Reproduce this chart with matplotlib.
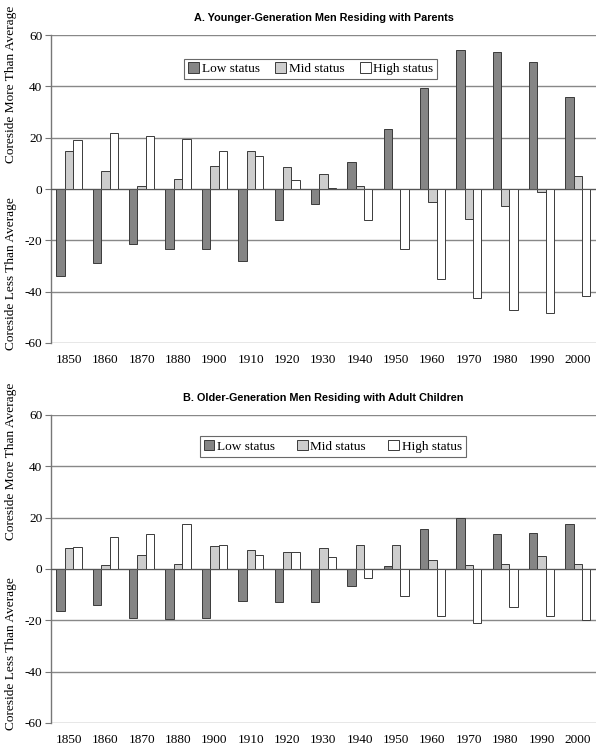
import numpy as np
import matplotlib
matplotlib.use("Agg")
import matplotlib.pyplot as plt

plt.rcParams['axes.unicode_minus'] = False

# Census years (categories)
years = ['1850', '1860', '1870', '1880', '1900', '1910', '1920', '1930',
         '1940', '1950', '1960', '1970', '1980', '1990', '2000']

# Panel A: younger-generation men residing with parents
a_low = [-34, -29, -21.5, -23.5, -23.5, -28, -12, -6, 10.5, 23.5, 39.5, 54, 53.5, 49.5, 36]
a_mid = [15, 7, 1, 4, 9, 15, 8.5, 6, 1, 0, -5, -11.5, -6.5, -1, 5]
a_high = [19, 22, 20.5, 19.5, 15, 13, 3.5, 0.3, -12, -23.5, -35, -42.5, -47, -48.5, -41.5]

# Panel B: older-generation men residing with adult children
b_low = [-16.5, -14, -19, -19.5, -19, -12.5, -13, -13, -6.5, 1, 15.5, 20, 13.5, 14, 17.5]
b_mid = [8, 1.5, 5.5, 2, 9, 7.5, 6.5, 8, 9.5, 9.5, 3.5, 1.5, 2, 5, 2]
b_high = [8.5, 12.5, 13.5, 17.5, 9.5, 5.5, 6.5, 4.5, -3.5, -10.5, -18.5, -21, -15, -18.5, -20]

series_labels = ['Low status', 'Mid status', 'High status']
colors = ['#858585', '#cdcdcd', '#ffffff']

serif = 'Liberation Serif'
sans = 'Liberation Sans'


def draw_panel(ax, low, mid, high, title, leg_x, leg_y, legend_spacing):
    x = np.arange(len(years))
    w = 0.23
    for i, (vals, lab, c) in enumerate(zip([low, mid, high], series_labels, colors)):
        ax.bar(x + (i - 1) * w, vals, w, color=c, edgecolor='#3a3a3a',
               linewidth=0.7, label=lab, zorder=3)

    ax.set_xlim(-0.5, len(years) - 0.5)
    ax.set_ylim(-60, 60)
    ax.set_yticks(range(-60, 61, 20))
    ax.set_xticks(x)
    ax.set_xticklabels(years, fontfamily=serif, fontsize=9.5)
    for t in ax.get_yticklabels():
        t.set_fontfamily(serif)
        t.set_fontsize(9.5)
    ax.tick_params(axis='x', length=0, pad=8)
    ax.tick_params(axis='y', length=4, color='#777777', pad=2)

    ax.grid(axis='y', color='#888888', linewidth=1.0, zorder=0)
    ax.axhline(0, color='#555555', linewidth=0.8, zorder=4)
    for s in ['top', 'right', 'bottom']:
        ax.spines[s].set_visible(False)
    ax.spines['left'].set_color('#777777')
    ax.spines['left'].set_linewidth(1.0)

    ax.set_title(title, fontfamily=sans, fontweight='bold', fontsize=7.8, pad=10)

    leg = ax.legend(loc='upper center', bbox_to_anchor=(leg_x, leg_y), ncol=3,
                    frameon=True, fancybox=False, prop={'family': serif, 'size': 9.5},
                    handlelength=0.8, handleheight=0.8, handletextpad=0.2,
                    columnspacing=legend_spacing, borderpad=0.3)
    leg.get_frame().set_edgecolor('#444444')
    leg.get_frame().set_linewidth(0.8)


fig = plt.figure(figsize=(6.12, 7.56), dpi=100)
ax1 = fig.add_axes([0.083, 0.5463, 0.891, 0.4074])
ax2 = fig.add_axes([0.083, 0.0437, 0.891, 0.4074])

draw_panel(ax1, a_low, a_mid, a_high, 'A. Younger-Generation Men Residing with Parents',
           0.477, 0.945, 1.2)
draw_panel(ax2, b_low, b_mid, b_high, 'B. Older-Generation Men Residing with Adult Children',
           0.517, 0.952, 1.7)

# Split y-axis labels (upper half / lower half of each panel)
for y_more, y_less in [(0.889, 0.638), (0.390, 0.135)]:
    fig.text(0.018, y_more, 'Coreside More Than Average', rotation=90,
             ha='center', va='center', fontfamily=serif, fontsize=9.6)
    fig.text(0.018, y_less, 'Coreside Less Than Average', rotation=90,
             ha='center', va='center', fontfamily=serif, fontsize=9.6)

fig.savefig('out.png', dpi=100)
